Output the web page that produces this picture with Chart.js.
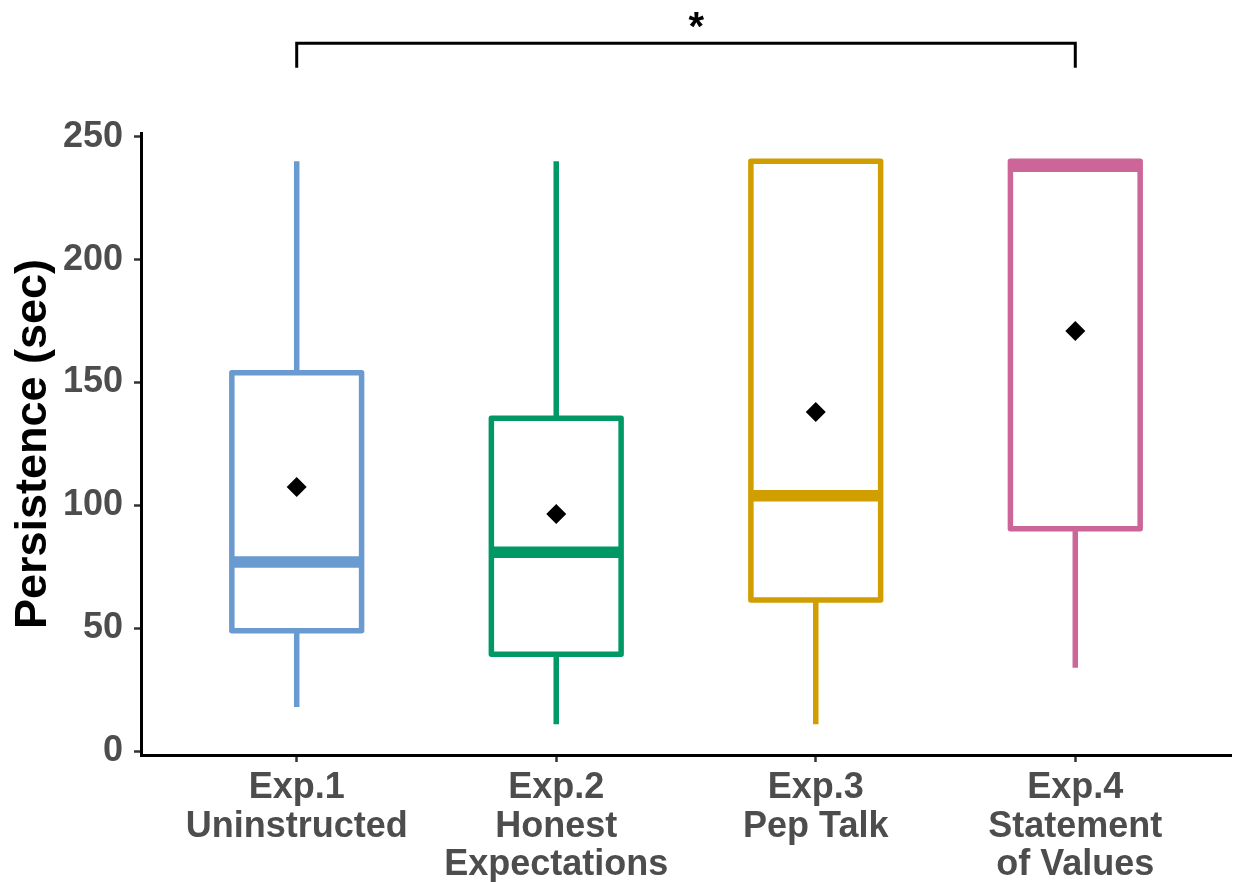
<!DOCTYPE html>
<html>
<head>
<meta charset="utf-8">
<script src="https://cdn.jsdelivr.net/npm/chart.js@4"></script>
<style>
  body { margin: 0; background: #fff; }
  #wrap { width: 1236px; height: 882px; }
</style>
</head>
<body>
<div id="wrap"><canvas id="myChart" width="1236" height="882"></canvas></div>
<script>
let labels = [
    ['Exp.1', 'Uninstructed'],
    ['Exp.2', 'Honest', 'Expectations'],
    ['Exp.3', 'Pep Talk'],
    ['Exp.4', 'Statement', 'of Values'],
];

let colors = ['#6A9BD0', '#009966', '#D09E00', '#CC6699'];

// five-number summaries
let whiskerLow = [18, 11, 11, 34];
let q1 = [49, 39.5, 61.5, 90.5];
let median = [77, 81, 104, 238];
let q3 = [154, 135.5, 240, 240];
let whiskerHigh = [240, 240, 240, 240];
let means = [107.5, 96.5, 138, 171];

let yTicks = [0, 50, 100, 150, 200, 250];

const font = 'Liberation Sans, Arial, Helvetica, sans-serif';

// boxes, whiskers and the significance bracket
const boxPlugin = {
    id: 'boxes',
    beforeDatasetsDraw(chart) {
        const ctx = chart.ctx;
        const x = chart.scales.x;
        const y = chart.scales.y;
        const half = (x.getPixelForValue(1.25) - x.getPixelForValue(1));
        ctx.save();
        for (let i = 0; i < labels.length; i++) {
            const cx = x.getPixelForValue(i + 1);
            ctx.strokeStyle = colors[i];
            ctx.lineCap = 'butt';
            ctx.lineJoin = 'round';
            // whiskers
            ctx.lineWidth = 5.5;
            ctx.beginPath();
            ctx.moveTo(cx, y.getPixelForValue(q3[i]));
            ctx.lineTo(cx, y.getPixelForValue(whiskerHigh[i]));
            ctx.moveTo(cx, y.getPixelForValue(q1[i]));
            ctx.lineTo(cx, y.getPixelForValue(whiskerLow[i]));
            ctx.stroke();
            // box
            const top = y.getPixelForValue(q3[i]);
            const bot = y.getPixelForValue(q1[i]);
            ctx.fillStyle = '#fff';
            ctx.fillRect(cx - half, top, half * 2, bot - top);
            ctx.strokeRect(cx - half, top, half * 2, bot - top);
            // median
            ctx.lineWidth = 11.5;
            ctx.beginPath();
            const my = y.getPixelForValue(median[i]);
            ctx.moveTo(cx - half, my);
            ctx.lineTo(cx + half, my);
            ctx.stroke();
        }
        ctx.restore();
    },
    afterDraw(chart) {
        const ctx = chart.ctx;
        const x = chart.scales.x;
        const y = chart.scales.y;
        const x1 = x.getPixelForValue(1);
        const x4 = x.getPixelForValue(4);
        const yTop = y.getPixelForValue(288);
        const yEnd = y.getPixelForValue(278);
        ctx.save();
        ctx.strokeStyle = '#000';
        ctx.lineWidth = 3;
        ctx.lineCap = 'butt';
        ctx.beginPath();
        ctx.moveTo(x1, yEnd);
        ctx.lineTo(x1, yTop);
        ctx.lineTo(x4, yTop);
        ctx.lineTo(x4, yEnd);
        ctx.stroke();
        ctx.fillStyle = '#000';
        ctx.font = 'bold 40px ' + font;
        ctx.textAlign = 'center';
        ctx.textBaseline = 'middle';
        ctx.fillText('*', x.getPixelForValue(2.54), y.getPixelForValue(294));
        ctx.restore();
    }
};

let myChart = document.getElementById('myChart').getContext('2d');

let chart = new Chart(myChart, {
    type: 'scatter',
    data: {
        datasets: [{
            data: means.map((m, i) => ({ x: i + 1, y: m })),
            pointStyle: 'rectRot',
            pointRadius: 10,
            pointHoverRadius: 10,
            backgroundColor: '#000',
            borderColor: '#000',
            borderWidth: 0
        }]
    },
    plugins: [boxPlugin],
    options: {
        responsive: false,
        animation: false,
        layout: { autoPadding: false, padding: { top: 133, right: 5, left: 0, bottom: 0 } },
        plugins: {
            legend: { display: false },
            tooltip: { enabled: false }
        },
        scales: {
            x: {
                type: 'linear',
                min: 0.4,
                max: 4.6,
                afterBuildTicks: (axis) => { axis.ticks = [1, 2, 3, 4].map(v => ({ value: v })); },
                afterFit: (axis) => {
                    axis.height = 127;
                    axis.paddingLeft = 0;
                    axis.paddingRight = 0;
                },
                border: { color: '#000', width: 3 },
                grid: { drawOnChartArea: false, drawTicks: true, tickLength: 7, tickColor: '#333', tickWidth: 2.5 },
                ticks: {
                    autoSkip: false,
                    maxRotation: 0,
                    padding: 7,
                    color: '#4D4D4D',
                    font: { family: font, size: 36, weight: 'bold', lineHeight: 1.07 },
                    callback: (v) => labels[v - 1]
                }
            },
            y: {
                min: -1.5,
                max: 251.5,
                afterBuildTicks: (axis) => { axis.ticks = yTicks.map(v => ({ value: v })); },
                afterFit: (axis) => { axis.width = 141; },
                border: { color: '#000', width: 3 },
                grid: { drawOnChartArea: false, drawTicks: true, tickLength: 7, tickColor: '#333', tickWidth: 2.5 },
                title: {
                    display: true,
                    text: 'Persistence (sec)',
                    color: '#000',
                    padding: { top: 7, bottom: 0 },
                    font: { family: font, size: 45, weight: 'bold' }
                },
                ticks: {
                    padding: 11,
                    color: '#4D4D4D',
                    font: { family: font, size: 36, weight: 'bold' }
                }
            }
        }
    }
});
</script>
</body>
</html>
